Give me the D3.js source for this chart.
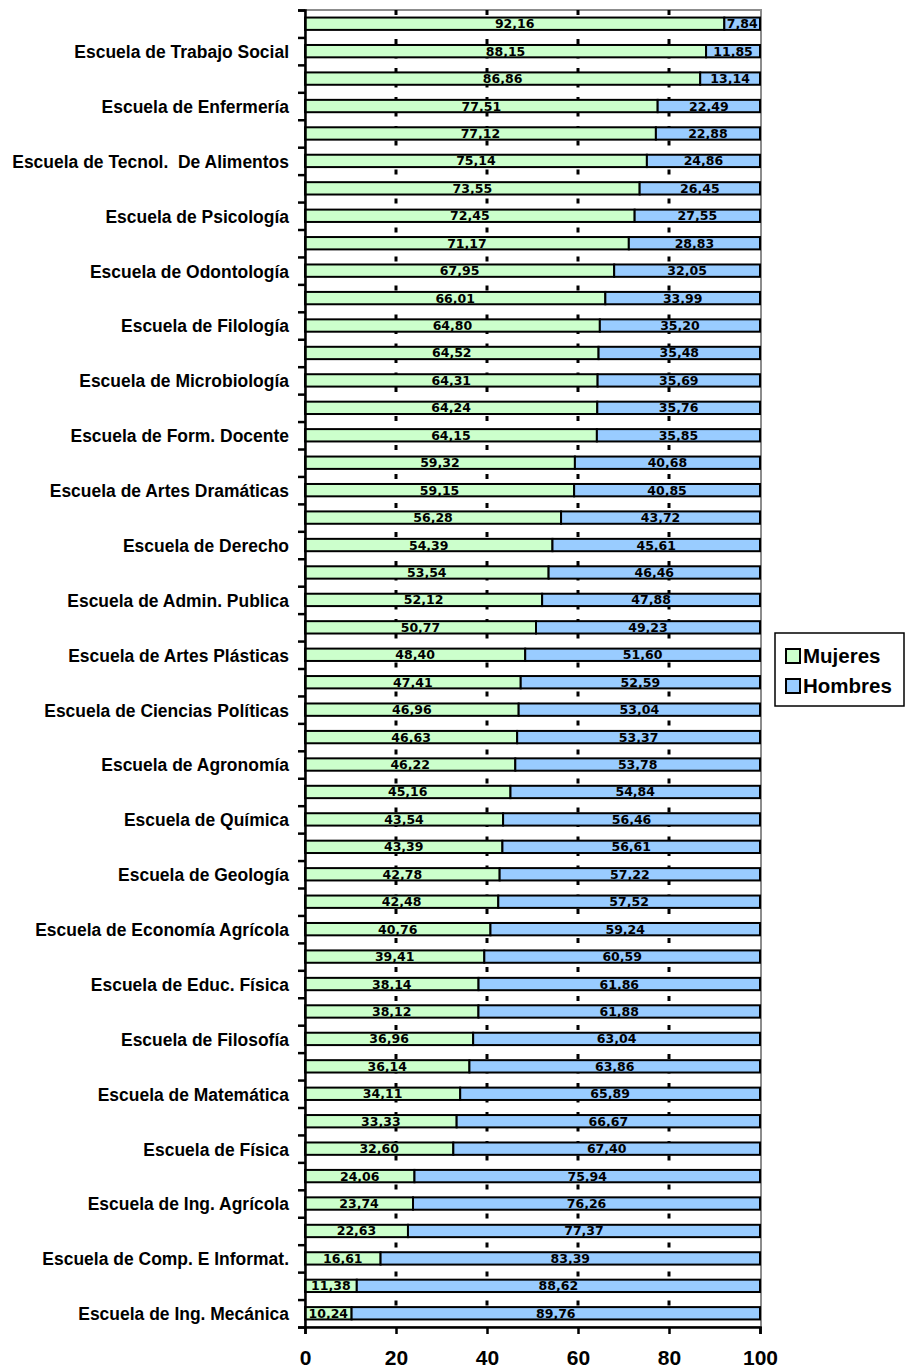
<!DOCTYPE html>
<html>
<head>
<meta charset="utf-8">
<script src="https://cdn.jsdelivr.net/npm/d3@7"></script>
<style>
  html, body { margin: 0; padding: 0; background: #fff; }
  svg { display: block; }
</style>
</head>
<body>
<svg id="chart" width="907" height="1371"></svg>
<script>
// ---------- data ----------
const categories = [
  "", "Escuela de Trabajo Social",
  "", "Escuela de Enfermería",
  "", "Escuela de Tecnol.  De Alimentos",
  "", "Escuela de Psicología",
  "", "Escuela de Odontología",
  "", "Escuela de Filología",
  "", "Escuela de Microbiología",
  "", "Escuela de Form. Docente",
  "", "Escuela de Artes Dramáticas",
  "", "Escuela de Derecho",
  "", "Escuela de Admin. Publica",
  "", "Escuela de Artes Plásticas",
  "", "Escuela de Ciencias Políticas",
  "", "Escuela de Agronomía",
  "", "Escuela de Química",
  "", "Escuela de Geología",
  "", "Escuela de Economía Agrícola",
  "", "Escuela de Educ. Física",
  "", "Escuela de Filosofía",
  "", "Escuela de Matemática",
  "", "Escuela de Física",
  "", "Escuela de Ing. Agrícola",
  "", "Escuela de Comp. E Informat.",
  "", "Escuela de Ing. Mecánica"
];
const mujeres = [
  92.16, 88.15, 86.86, 77.51, 77.12, 75.14, 73.55, 72.45, 71.17, 67.95,
  66.01, 64.80, 64.52, 64.31, 64.24, 64.15, 59.32, 59.15, 56.28, 54.39,
  53.54, 52.12, 50.77, 48.40, 47.41, 46.96, 46.63, 46.22, 45.16, 43.54,
  43.39, 42.78, 42.48, 40.76, 39.41, 38.14, 38.12, 36.96, 36.14, 34.11,
  33.33, 32.60, 24.06, 23.74, 22.63, 16.61, 11.38, 10.24
];
const hombres = [
  7.84, 11.85, 13.14, 22.49, 22.88, 24.86, 26.45, 27.55, 28.83, 32.05,
  33.99, 35.20, 35.48, 35.69, 35.76, 35.85, 40.68, 40.85, 43.72, 45.61,
  46.46, 47.88, 49.23, 51.60, 52.59, 53.04, 53.37, 53.78, 54.84, 56.46,
  56.61, 57.22, 57.52, 59.24, 60.59, 61.86, 61.88, 63.04, 63.86, 65.89,
  66.67, 67.40, 75.94, 76.26, 77.37, 83.39, 88.62, 89.76
];
const seriesNames = ["Mujeres", "Hombres"];
const seriesColors = ["#ccffcc", "#99ccff"];
const xTicks = [0, 20, 40, 60, 80, 100];

// ---------- layout ----------
const mL = 305, mR = 760, mT = 10, mB = 1327;
const svg = d3.select("#chart");
const n = categories.length;

const x = d3.scaleLinear().domain([0, 100]).range([mL, mR]);
const y = d3.scaleBand().domain(d3.range(n)).range([mT, mB])
  .paddingInner(0.55).paddingOuter(0.275);
const yEdge = d3.scaleLinear().domain([0, n]).range([mT, mB]);

const loc = d3.formatLocale({decimal: ",", thousands: ".", grouping: [3], currency: ["", ""]});
const fmt = loc.format(".2f");

// plot border (gray top & right)
svg.append("rect")
  .attr("x", mL).attr("y", mT)
  .attr("width", x(100) - mL + 1).attr("height", mB - mT)
  .attr("fill", "none").attr("stroke", "#8c8c8c").attr("stroke-width", 2);

// dashed gridlines (behind bars)
svg.append("g").selectAll("line")
  .data(xTicks.filter(t => t > 0 && t < 100))
  .join("line")
  .attr("x1", d => x(d)).attr("x2", d => x(d))
  .attr("y1", mT).attr("y2", mB)
  .attr("stroke", "#000").attr("stroke-width", 3)
  .attr("stroke-dasharray", "5,9.5");

// stacked data
const rows = d3.range(n).map(i => ({i, m: mujeres[i], h: hombres[i]}));
const bars = svg.append("g");

rows.forEach(r => {
  const segs = [
    {x0: 0, x1: r.m, c: seriesColors[0]},
    {x0: r.m, x1: r.m + r.h, c: seriesColors[1]}
  ];
  segs.forEach(s => {
    bars.append("rect")
      .attr("x", x(s.x0)).attr("y", y(r.i))
      .attr("width", x(s.x1) - x(s.x0)).attr("height", y.bandwidth())
      .attr("fill", s.c).attr("stroke", "#000").attr("stroke-width", 2);
  });
});

// value labels
const lab = svg.append("g")
  .attr("font-family", "DejaVu Sans, sans-serif")
  .attr("font-weight", "bold").attr("font-size", 12.5)
  .attr("fill", "#000").attr("text-anchor", "middle");
rows.forEach(r => {
  lab.append("text")
    .attr("x", (x(0) + x(r.m)) / 2)
    .attr("y", y(r.i) + y.bandwidth() / 2).attr("dy", "0.36em")
    .text(fmt(r.m));
  lab.append("text")
    .attr("x", (x(r.m) + x(r.m + r.h)) / 2)
    .attr("y", y(r.i) + y.bandwidth() / 2).attr("dy", "0.36em")
    .text(fmt(r.h));
});

// left axis with ticks at band edges
const leftAxis = svg.append("g").attr("transform", `translate(${mL},0)`)
  .call(d3.axisLeft(yEdge).tickValues(d3.range(n + 1)).tickSize(7).tickFormat(""));
leftAxis.select(".domain").attr("stroke", "#000").attr("stroke-width", 2.5);
leftAxis.selectAll(".tick line").attr("stroke", "#000").attr("stroke-width", 2.5);

// category labels (slightly condensed, as in the reference)
svg.append("g")
  .attr("font-family", "Liberation Sans, Arial, sans-serif")
  .attr("font-weight", "bold")
  .attr("font-size", 19).attr("fill", "#000").attr("text-anchor", "end")
  .selectAll("text").data(rows.filter(r => categories[r.i] !== ""))
  .join("text")
  .attr("transform", r => `translate(289,${y(r.i) + y.bandwidth() / 2}) scale(0.92,1)`)
  .attr("dy", "0.36em")
  .style("white-space", "pre")
  .text(r => categories[r.i]);

// bottom axis
const bAxis = svg.append("g").attr("transform", `translate(0,${mB})`)
  .call(d3.axisBottom(x).tickValues(xTicks).tickSize(7).tickPadding(16).tickFormat(d3.format("d")));
bAxis.select(".domain").attr("stroke", "#000").attr("stroke-width", 2.5);
bAxis.selectAll(".tick line").attr("stroke", "#000").attr("stroke-width", 2.5);
bAxis.selectAll(".tick text")
  .attr("font-family", "Liberation Sans, Arial, sans-serif")
  .attr("font-weight", "bold").attr("font-size", 21).attr("fill", "#000");

// legend
const lg = svg.append("g");
lg.append("rect").attr("x", 775).attr("y", 633).attr("width", 129).attr("height", 73)
  .attr("fill", "#fff").attr("stroke", "#000").attr("stroke-width", 1.5);
seriesNames.forEach((name, k) => {
  const cy = 656 + k * 30;
  lg.append("rect").attr("x", 786).attr("y", cy - 7).attr("width", 14).attr("height", 14)
    .attr("fill", seriesColors[k]).attr("stroke", "#000").attr("stroke-width", 2);
  lg.append("text").attr("x", 803).attr("y", cy).attr("dy", "0.36em")
    .attr("font-family", "Liberation Sans, Arial, sans-serif")
    .attr("font-weight", "bold")
    .attr("font-size", 20.5).attr("fill", "#000").text(name);
});
</script>
</body>
</html>
